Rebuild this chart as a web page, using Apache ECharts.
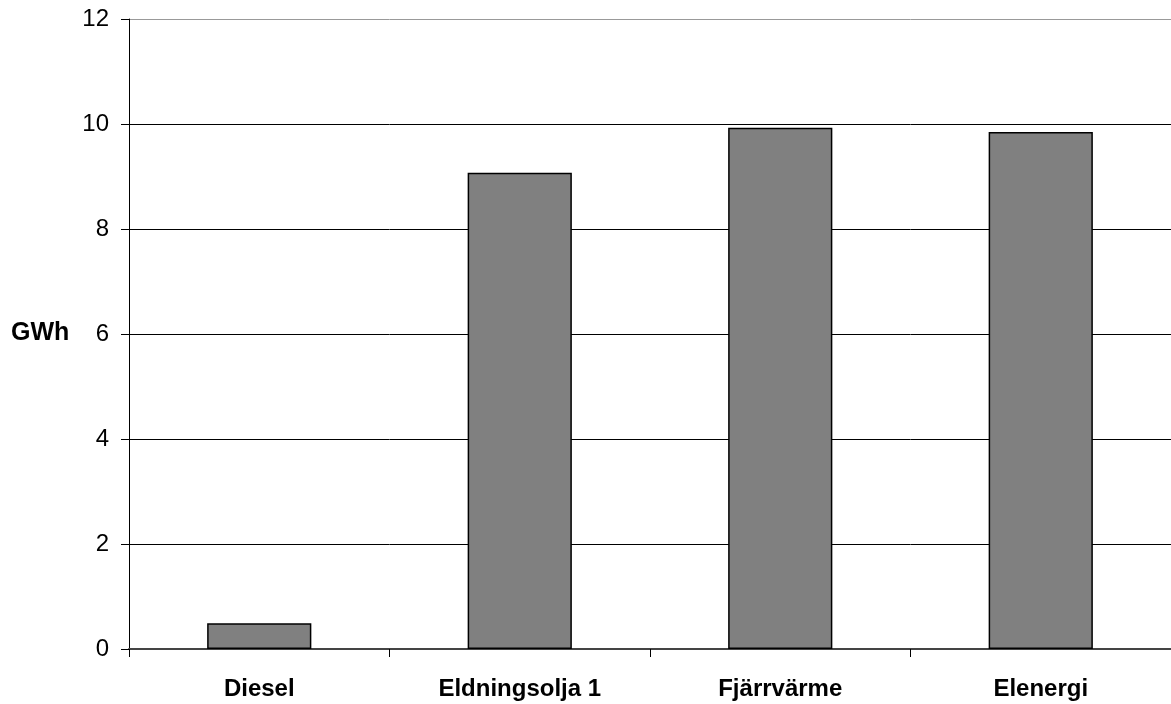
<!DOCTYPE html>
<html><head><meta charset="utf-8">
<script src="https://cdn.jsdelivr.net/npm/echarts@6/dist/echarts.min.js"></script>
<style>html,body{margin:0;padding:0;background:#fff}#c{width:1171px;height:704px}</style>
</head><body><div id="c"></div>
<script>
const categories = ['Diesel', 'Eldningsolja 1', 'Fjärrvärme', 'Elenergi'];
const values = [0.49, 9.07, 9.93, 9.85];
const yTicks = [0, 2, 4, 6, 8, 10, 12];
const yName = 'GWh';

const chart = echarts.init(document.getElementById('c'));
chart.setOption({
  animation: false,
  grid: { left: 129, right: -6, top: 19, bottom: 55, containLabel: false },
  graphic: [{ type: 'text', left: 11, top: 321, style: { text: yName, font: 'bold 25px "Liberation Sans", Arial, sans-serif', fill: '#000' } }],
  xAxis: {
    type: 'category', data: categories,
    axisLine: { lineStyle: { color: '#444', width: 2 } },
    axisTick: { show: true, alignWithLabel: false, length: 8, lineStyle: { color: '#000' } },
    axisLabel: { color: '#000', fontFamily: '"Liberation Sans", Arial, sans-serif', fontWeight: 'bold', fontSize: 24, margin: 28 }
  },
  yAxis: {
    type: 'value', min: yTicks[0], max: yTicks[yTicks.length - 1], interval: 2,
    axisLine: { show: true, lineStyle: { color: '#000', width: 1 } },
    axisTick: { show: true, length: 8, lineStyle: { color: '#000' } },
    axisLabel: { color: '#000', fontFamily: '"Liberation Sans", Arial, sans-serif', fontSize: 24, margin: 20 },
    splitLine: { show: true, lineStyle: { color: ['#000', '#000', '#000', '#000', '#000', '#000', '#999'], width: 1 } }
  },
  series: [{
    type: 'bar', data: values, barWidth: '40%',
    itemStyle: { color: '#808080', borderColor: '#000', borderWidth: 1.5 }
  }]
});
</script></body></html>
